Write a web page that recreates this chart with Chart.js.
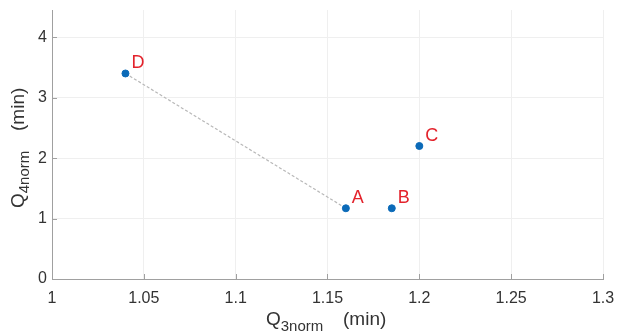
<!DOCTYPE html>
<html><head><meta charset="utf-8">
<script src="https://cdn.jsdelivr.net/npm/chart.js@4/dist/chart.umd.min.js"></script>
<style>html,body{margin:0;padding:0;background:#fff}#wrap{width:618px;height:334px}</style>
</head><body><div id="wrap"><canvas id="c" width="618" height="334"></canvas></div>
<script>
const pointLabels = ['A', 'B', 'C', 'D'];
const q3norm = [1.16, 1.185, 1.2, 1.04];
const q4norm = [1.17, 1.17, 2.2, 3.4];
const linkedPoints = ['D', 'A'];
const xTicks = [1, 1.05, 1.1, 1.15, 1.2, 1.25, 1.3];
const yTicks = [0, 1, 2, 3, 4];

const FONT = '"Liberation Sans", Arial, sans-serif';
const pts = pointLabels.map((l, i) => ({x: q3norm[i], y: q4norm[i], label: l}));
const linkPts = linkedPoints.map(l => pts[pointLabels.indexOf(l)]);

const decorPlugin = {
  id: 'decor',
  afterDatasetsDraw(chart) {
    const ctx = chart.ctx, xs = chart.scales.x, ys = chart.scales.y, a = chart.chartArea;
    ctx.save();
    // inward tick marks
    ctx.strokeStyle = '#a0a0a0'; ctx.lineWidth = 1;
    xTicks.forEach(v => { const px = Math.round(xs.getPixelForValue(v)) + 0.5;
      ctx.beginPath(); ctx.moveTo(px, a.bottom); ctx.lineTo(px, a.bottom - 5); ctx.stroke(); });
    yTicks.forEach(v => { const py = Math.round(ys.getPixelForValue(v)) + 0.5;
      ctx.beginPath(); ctx.moveTo(a.left, py); ctx.lineTo(a.left + 5, py); ctx.stroke(); });
    // point labels
    ctx.fillStyle = '#e3232c';
    ctx.font = '18px ' + FONT;
    ctx.textBaseline = 'alphabetic'; ctx.textAlign = 'left';
    pts.forEach(p => {
      const px = xs.getPixelForValue(p.x), py = ys.getPixelForValue(p.y);
      ctx.fillText(p.label, px + 6, py - 5);
    });
    // axis titles with subscripts
    ctx.fillStyle = '#333';
    // x title
    ctx.font = '19px ' + FONT;
    let x0 = 266, yb = 325;
    ctx.fillText('Q', x0, yb);
    let w = ctx.measureText('Q').width;
    ctx.font = '15px ' + FONT;
    ctx.fillText('3norm', x0 + w, yb + 6);
    ctx.font = '19px ' + FONT;
    ctx.fillText('(min)', 343, yb);
    // y title
    ctx.translate(24, 0); ctx.rotate(-Math.PI / 2);
    ctx.font = '19px ' + FONT;
    let s0 = -208;
    ctx.fillText('Q', s0, 0);
    w = ctx.measureText('Q').width;
    ctx.font = '15px ' + FONT;
    ctx.fillText('4norm', s0 + w, 5);
    ctx.font = '19px ' + FONT;
    ctx.fillText('(min)', -131, 0);
    ctx.restore();
  }
};

new Chart(document.getElementById('c'), {
  type: 'scatter',
  data: {
    datasets: [
      { data: pts, backgroundColor: '#0b6ab8', borderColor: '#0b6ab8', pointRadius: 3.5, pointHoverRadius: 3.5, order: 0 },
      { type: 'line', data: linkPts, borderColor: '#b8b8b8', borderWidth: 1.2, borderDash: [3, 2], pointRadius: 0, fill: false, order: 1 }
    ]
  },
  options: {
    responsive: false, animation: false,
    layout: { padding: { left: 0, right: 15, top: 10, bottom: 0 } },
    plugins: { legend: { display: false }, tooltip: { enabled: false } },
    scales: {
      x: {
        type: 'linear', min: 1, max: 1.3,
        afterBuildTicks: s => { s.ticks = xTicks.map(v => ({value: v})); },
        afterFit: s => { s.height = 55; s.paddingLeft = 0; s.paddingRight = 0; },
        border: { color: '#a0a0a0', width: 1 },
        grid: { color: '#efefef', drawTicks: false },
        ticks: { padding: 10, color: '#333', font: { family: FONT, size: 16 }, maxRotation: 0, callback: v => String(v) }
      },
      y: {
        type: 'linear', min: 0, max: 4.45,
        afterBuildTicks: s => { s.ticks = yTicks.map(v => ({value: v})); },
        afterFit: s => { s.width = 52; s.paddingTop = 0; s.paddingBottom = 0; },
        border: { color: '#a0a0a0', width: 1 },
        grid: { color: '#efefef', drawTicks: false },
        ticks: { padding: 5, color: '#333', font: { family: FONT, size: 16 }, callback: v => String(v) }
      }
    }
  },
  plugins: [decorPlugin]
});
</script></body></html>
